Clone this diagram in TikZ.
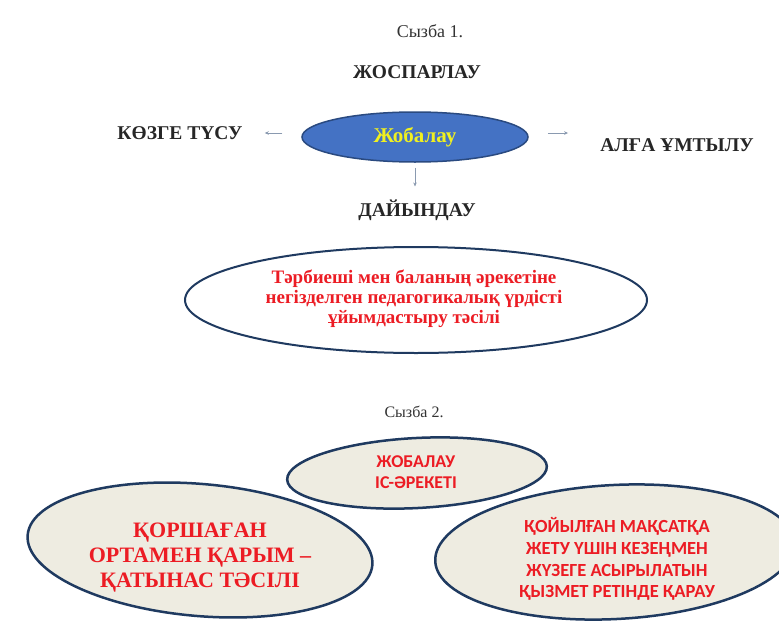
\documentclass[tikz,border=0pt]{standalone}
\usepackage{fontspec}
\setmainfont{Liberation Serif}
\newfontfamily\carl{Carlito}
\usetikzlibrary{shapes.geometric,arrows.meta}
\definecolor{navy}{HTML}{1F3A60}
\definecolor{redtxt}{HTML}{EC1C24}
\definecolor{bluefill}{HTML}{4472C4}
\definecolor{blueborder}{HTML}{2A4A80}
\definecolor{paper}{HTML}{EEECE1}
\definecolor{arrowgray}{HTML}{8A9AB0}
\definecolor{yellowtxt}{HTML}{F0F020}
\tikzset{
  lbl/.style={inner sep=0pt, font=\fontsize{19.5}{21}\selectfont\bfseries, text=black!85},
  captxt/.style={inner sep=0pt, font=\fontsize{16}{18}\selectfont, text=black!80},
  oval/.style={ellipse, draw=navy, line width=2.5pt, fill=paper, inner sep=0pt},
  arr/.style={draw=arrowgray, line width=0.9pt, -{Stealth[length=4pt,width=3.5pt]}},
  redser/.style={inner sep=0pt, align=center, text=redtxt, font=\bfseries},
  redsans/.style={inner sep=0pt, align=center, text=redtxt, font=\carl\bfseries}
}
\begin{document}
\begin{tikzpicture}[x=1pt,y=-1pt]
\useasboundingbox (0,0) rectangle (779,624);
\clip (0,0) rectangle (779,624);
\fill[white] (0,0) rectangle (779,624);

% Scheme 1
\node[captxt, font=\fontsize{18}{20}\selectfont] (s1) at (430,31) {Сызба 1.};
\node[lbl] (josp) at (417,72) {ЖОСПАРЛАУ};
\node[ellipse, draw=blueborder, line width=1.5pt, fill=bluefill, minimum width=226pt, minimum height=50pt, inner sep=0pt,
      font=\fontsize{21}{22}\selectfont\bfseries, text=yellowtxt] (blue) at (415,137) {Жобалау};
\node[lbl] (kozge) at (180,133) {КӨЗГЕ ТҮСУ};
\node[lbl] (alga) at (677,145) {АЛҒА ҰМТЫЛУ};
\node[lbl] (dayyn) at (417,210) {ДАЙЫНДАУ};

\draw[arr, shorten <=19pt, shorten >=22pt] (blue.west |- kozge) -- (kozge.east);
\draw[arr, shorten <=19pt, shorten >=32pt] ([yshift=4pt]blue.east) -- ([yshift=4pt]blue.east -| alga.west);
\draw[arr, shorten <=5pt, shorten >=13pt] (blue.south) -- (blue.south |- dayyn.north);

\node[ellipse, draw=navy, line width=2pt, fill=white, minimum width=462pt, minimum height=106pt, inner sep=0pt] (big) at (416,300) {};
\node[redser, font=\fontsize{19}{20}\selectfont\bfseries] (bigtxt) at (414,299)
  {Тәрбиеші мен баланың әрекетіне\\негізделген педагогикалық үрдісті\\ұйымдастыру тәсілі};

% Scheme 2
\node[captxt] (s2) at (414,412) {Сызба 2.};
\node[oval, minimum width=346pt, minimum height=132pt, rotate=-5] (leftov) at (200,550) {};
\node[oval, minimum width=360pt, minimum height=134pt, rotate=3] (rightov) at (615,552) {};
\node[oval, minimum width=260pt, minimum height=70pt, rotate=3] (topov) at (417,473) {};

\node[redsans, font=\carl\bfseries\fontsize{18}{21}\selectfont] (toptxt) at (416,472) {ЖОБАЛАУ\\ІС-ӘРЕКЕТІ};
\node[redser, font=\fontsize{22}{25}\selectfont\bfseries] (lefttxt) at (200,558)
  {ҚОРШАҒАН\\ОРТАМЕН ҚАРЫМ –\\ҚАТЫНАС ТӘСІЛІ};
\node[redsans, font=\carl\bfseries\fontsize{18.5}{21.7}\selectfont] (righttxt) at (617,559)
  {ҚОЙЫЛҒАН МАҚСАТҚА\\ЖЕТУ ҮШІН КЕЗЕҢМЕН\\ЖҮЗЕГЕ АСЫРЫЛАТЫН\\ҚЫЗМЕТ РЕТІНДЕ ҚАРАУ};
\end{tikzpicture}
\end{document}
